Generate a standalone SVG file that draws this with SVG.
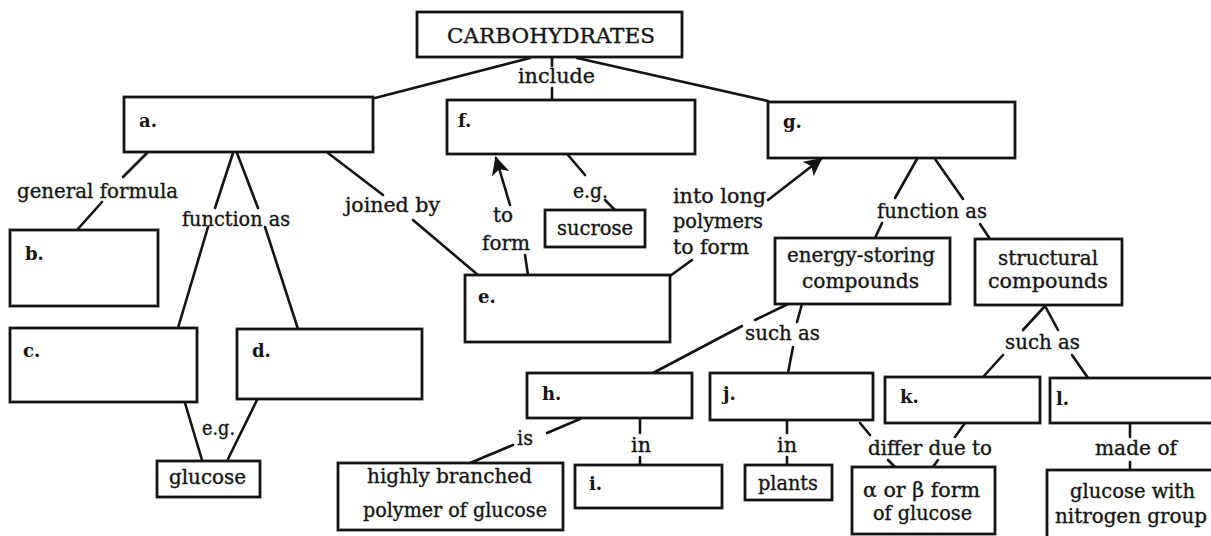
<svg xmlns="http://www.w3.org/2000/svg" width="1211" height="536" viewBox="0 0 1211 536">
<style>
.bx{fill:#fff;stroke:#141414;stroke-width:2.8}
.ln{stroke:#141414;stroke-width:2.6;fill:none;stroke-linecap:round}
text{font-family:"DejaVu Serif","Liberation Serif",serif;font-size:20px;fill:#141414;stroke:#141414;stroke-width:0.35}
.lb{font-weight:bold;font-size:18px;stroke-width:0}
.t{font-size:21px}
</style>
<defs>
<marker id="ah" viewBox="0 0 10 10" refX="9" refY="5" markerWidth="7" markerHeight="7" orient="auto" markerUnits="strokeWidth">
<path d="M0,0 L10,5 L0,10 L2.5,5 z" fill="#141414"/>
</marker>
</defs>
<rect width="1211" height="536" fill="#fff"/>
<g id="connectors">
<line class="ln" x1="530" y1="58" x2="375" y2="98"/>
<line class="ln" x1="552" y1="57" x2="552" y2="66"/>
<line class="ln" x1="552" y1="88" x2="552" y2="100"/>
<line class="ln" x1="577" y1="58" x2="768" y2="101"/>
<line class="ln" x1="147" y1="153" x2="123" y2="177"/>
<line class="ln" x1="102" y1="202" x2="77" y2="230"/>
<line class="ln" x1="233" y1="153" x2="215" y2="208"/>
<line class="ln" x1="237" y1="153" x2="258" y2="208"/>
<line class="ln" x1="208" y1="227" x2="178" y2="328"/>
<line class="ln" x1="265" y1="227" x2="298" y2="329"/>
<line class="ln" x1="328" y1="153" x2="383" y2="195"/>
<line class="ln" x1="413" y1="220" x2="478" y2="275"/>
<line class="ln" x1="185" y1="403" x2="202" y2="460"/>
<line class="ln" x1="257" y1="400" x2="227" y2="461"/>
<line class="ln" x1="568" y1="155" x2="585" y2="175"/>
<line class="ln" x1="605" y1="200" x2="615" y2="210"/>
<line class="ln" x1="525" y1="255" x2="528" y2="275"/>
<line class="ln" x1="510" y1="205" x2="496" y2="158" marker-end="url(#ah)"/>
<line class="ln" x1="670" y1="276" x2="692" y2="260"/>
<line class="ln" x1="768" y1="200" x2="821" y2="159" marker-end="url(#ah)"/>
<line class="ln" x1="917" y1="159" x2="895" y2="198"/>
<line class="ln" x1="935" y1="159" x2="963" y2="199"/>
<line class="ln" x1="882" y1="223" x2="875" y2="238"/>
<line class="ln" x1="980" y1="224" x2="990" y2="239"/>
<line class="ln" x1="788" y1="304" x2="755" y2="320"/>
<line class="ln" x1="742" y1="326" x2="653" y2="373"/>
<line class="ln" x1="802" y1="304" x2="797" y2="322"/>
<line class="ln" x1="793" y1="347" x2="788" y2="373"/>
<line class="ln" x1="1045" y1="306" x2="1023" y2="330"/>
<line class="ln" x1="1045" y1="306" x2="1058" y2="330"/>
<line class="ln" x1="1003" y1="355" x2="983" y2="377"/>
<line class="ln" x1="1072" y1="355" x2="1088" y2="378"/>
<line class="ln" x1="580" y1="419" x2="547" y2="433"/>
<line class="ln" x1="513" y1="445" x2="470" y2="463"/>
<line class="ln" x1="640" y1="419" x2="640" y2="433"/>
<line class="ln" x1="640" y1="457" x2="640" y2="465"/>
<line class="ln" x1="787" y1="420" x2="787" y2="433"/>
<line class="ln" x1="787" y1="457" x2="787" y2="465"/>
<line class="ln" x1="860" y1="423" x2="870" y2="435"/>
<line class="ln" x1="965" y1="423" x2="955" y2="437"/>
<line class="ln" x1="888" y1="460" x2="895" y2="467"/>
<line class="ln" x1="938" y1="460" x2="933" y2="467"/>
<line class="ln" x1="1130" y1="423" x2="1130" y2="437"/>
<line class="ln" x1="1130" y1="462" x2="1130" y2="470"/>
</g>
<g id="labels">
<text x="518" y="83" textLength="77" lengthAdjust="spacingAndGlyphs">include</text>
<text x="17" y="198" textLength="161" lengthAdjust="spacingAndGlyphs">general formula</text>
<text x="182" y="226" textLength="108" lengthAdjust="spacingAndGlyphs">function as</text>
<text x="345" y="212" textLength="95" lengthAdjust="spacingAndGlyphs">joined by</text>
<text x="202" y="435" textLength="33" lengthAdjust="spacingAndGlyphs">e.g.</text>
<text x="493" y="222" textLength="20" lengthAdjust="spacingAndGlyphs">to</text>
<text x="482" y="250" textLength="48" lengthAdjust="spacingAndGlyphs">form</text>
<text x="573" y="198" textLength="35" lengthAdjust="spacingAndGlyphs">e.g.</text>
<text x="673" y="203" textLength="93" lengthAdjust="spacingAndGlyphs">into long</text>
<text x="673" y="228" textLength="90" lengthAdjust="spacingAndGlyphs">polymers</text>
<text x="673" y="254" textLength="76" lengthAdjust="spacingAndGlyphs">to form</text>
<text x="877" y="218" textLength="110" lengthAdjust="spacingAndGlyphs">function as</text>
<text x="745" y="340" textLength="75" lengthAdjust="spacingAndGlyphs">such as</text>
<text x="1005" y="349" textLength="75" lengthAdjust="spacingAndGlyphs">such as</text>
<text x="517" y="445" textLength="16" lengthAdjust="spacingAndGlyphs">is</text>
<text x="631" y="452" textLength="20" lengthAdjust="spacingAndGlyphs">in</text>
<text x="777" y="452" textLength="20" lengthAdjust="spacingAndGlyphs">in</text>
<text x="868" y="455" textLength="124" lengthAdjust="spacingAndGlyphs">differ due to</text>
<text x="1095" y="455" textLength="82" lengthAdjust="spacingAndGlyphs">made of</text>
</g>
<g id="carbohydrates"><rect class="bx" x="417" y="12" width="265" height="45"/><text class="t" x="447" y="43" textLength="208" lengthAdjust="spacingAndGlyphs">CARBOHYDRATES</text></g>
<g id="a"><rect class="bx" x="124" y="97" width="249" height="55"/><text class="lb" x="139" y="127">a.</text></g>
<g id="f"><rect class="bx" x="447" y="100" width="248" height="54"/><text class="lb" x="458" y="127">f.</text></g>
<g id="g"><rect class="bx" x="768" y="102" width="247" height="56"/><text class="lb" x="783" y="128">g.</text></g>
<g id="b"><rect class="bx" x="10" y="230" width="148" height="76"/><text class="lb" x="25" y="260">b.</text></g>
<g id="c"><rect class="bx" x="10" y="328" width="187" height="74"/><text class="lb" x="23" y="357">c.</text></g>
<g id="d"><rect class="bx" x="237" y="329" width="185" height="70"/><text class="lb" x="252" y="357">d.</text></g>
<g id="e"><rect class="bx" x="465" y="275" width="205" height="67"/><text class="lb" x="478" y="303">e.</text></g>
<g id="sucrose"><rect class="bx" x="545" y="210" width="100" height="37"/><text x="557" y="235" textLength="76" lengthAdjust="spacingAndGlyphs">sucrose</text></g>
<g id="glucose"><rect class="bx" x="157" y="461" width="103" height="36"/><text x="169" y="484" textLength="77" lengthAdjust="spacingAndGlyphs">glucose</text></g>
<g id="energy"><rect class="bx" x="775" y="238" width="175" height="66"/><text x="787" y="262" textLength="148" lengthAdjust="spacingAndGlyphs">energy-storing</text><text x="802" y="288" textLength="117" lengthAdjust="spacingAndGlyphs">compounds</text></g>
<g id="structural"><rect class="bx" x="975" y="239" width="147" height="66"/><text x="998" y="265" textLength="100" lengthAdjust="spacingAndGlyphs">structural</text><text x="988" y="288" textLength="120" lengthAdjust="spacingAndGlyphs">compounds</text></g>
<g id="h"><rect class="bx" x="527" y="373" width="165" height="45"/><text class="lb" x="542" y="400">h.</text></g>
<g id="j"><rect class="bx" x="710" y="373" width="163" height="47"/><text class="lb" x="723" y="400">j.</text></g>
<g id="k"><rect class="bx" x="885" y="377" width="155" height="46"/><text class="lb" x="900" y="403">k.</text></g>
<g id="l"><rect class="bx" x="1050" y="378" width="170" height="45"/><text class="lb" x="1056" y="405">l.</text></g>
<g id="highly"><rect class="bx" x="338" y="463" width="225" height="67"/><text x="367" y="483" textLength="165" lengthAdjust="spacingAndGlyphs">highly branched</text><text x="363" y="517" textLength="184" lengthAdjust="spacingAndGlyphs">polymer of glucose</text></g>
<g id="i"><rect class="bx" x="575" y="465" width="147" height="43"/><text class="lb" x="589" y="490">i.</text></g>
<g id="plants"><rect class="bx" x="745" y="465" width="87" height="35"/><text x="758" y="490" textLength="60" lengthAdjust="spacingAndGlyphs">plants</text></g>
<g id="alpha"><rect class="bx" x="852" y="467" width="143" height="67"/><text x="863" y="497" textLength="117" lengthAdjust="spacingAndGlyphs">α or β form</text><text x="873" y="520" textLength="99" lengthAdjust="spacingAndGlyphs">of glucose</text></g>
<g id="glucose-nitrogen"><rect class="bx" x="1047" y="470" width="175" height="75"/><text x="1070" y="498" textLength="125" lengthAdjust="spacingAndGlyphs">glucose with</text><text x="1055" y="523" textLength="152" lengthAdjust="spacingAndGlyphs">nitrogen group</text></g>
</svg>
